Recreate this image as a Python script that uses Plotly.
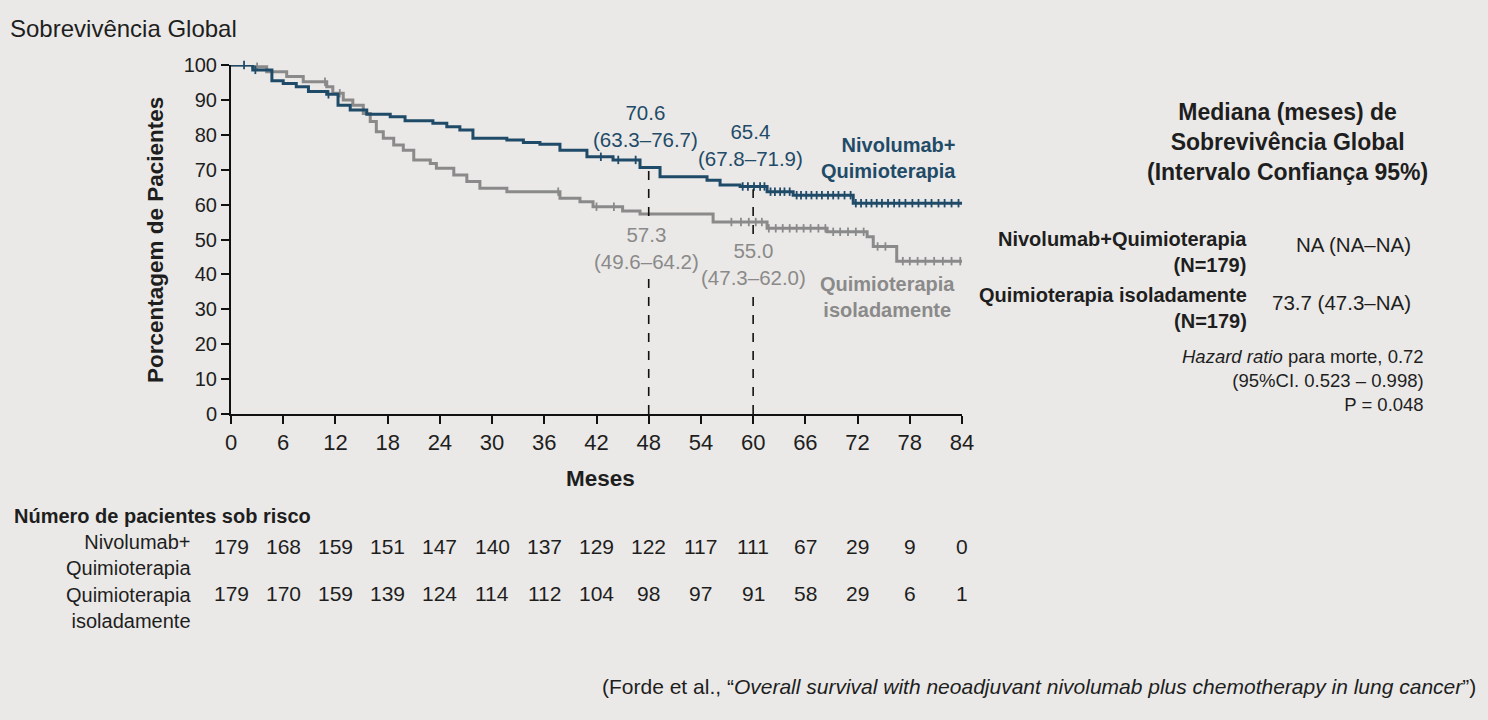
import numpy as np
import plotly.graph_objects as go

# Kaplan-Meier steps (months, % alive)
nivo_t = [0, 2.5, 4.7, 6.0, 7.5, 8.9, 11.0, 12.3, 13.7, 15.6, 18.3, 20.0, 23.2, 24.8, 26.3, 27.8,
          31.7, 33.6, 35.5, 37.8, 40.9, 43.9, 47.0, 49.3, 54.7, 56.2, 58.5, 61.6, 64.6, 71.5, 84]
nivo_s = [100, 98.6, 95.5, 94.7, 93.8, 92.4, 91.6, 88.5, 87.1, 85.9, 85.2, 84.0, 83.3, 82.3, 81.4, 79.0,
          78.5, 77.8, 77.3, 75.6, 73.7, 72.8, 70.6, 68.0, 67.0, 65.6, 65.2, 63.7, 62.7, 60.4, 60.4]

chemo_t = [0, 2.5, 4.1, 6.4, 8.3, 11.0, 11.7, 12.9, 14.0, 15.2, 16.0, 16.7, 17.5, 18.7, 19.8, 21.0,
           22.9, 23.6, 25.6, 27.1, 28.6, 31.7, 37.8, 40.1, 41.6, 45.0, 47.0, 55.4, 61.6, 68.5, 73.1,
           73.8, 76.5, 84]
chemo_s = [100, 99.5, 98.1, 96.7, 95.2, 93.8, 91.9, 90.0, 88.5, 86.1, 83.8, 80.9, 79.0, 77.1, 75.6, 72.8,
           71.8, 70.4, 68.5, 66.6, 64.7, 63.7, 61.8, 60.8, 59.4, 58.2, 57.3, 55.0, 53.2, 52.2, 50.8,
           48.0, 43.8, 43.8]

# censored observations (tick marks)
nivo_cens = [1.5, 2.8, 11.2, 42.5, 44.5, 46.5, 58.8, 59.4, 60.1, 60.8, 61.3, 62.0, 62.5, 63.1, 63.6,
             64.2, 65.0, 65.5, 66.1, 66.7, 67.3, 67.9, 68.6, 69.2, 69.8, 70.5, 71.2, 71.8, 72.4, 73.0,
             73.6, 74.2, 74.8, 75.5, 76.2, 76.8, 77.5, 78.3, 79.0, 79.8, 80.5, 81.3, 82.0, 82.8, 83.6]
chemo_cens = [3.0, 10.8, 12.5, 37.6, 42.0, 44.0, 57.5, 58.6, 59.5, 60.3, 61.0, 61.8, 62.6, 63.4, 64.2,
              65.0, 65.8, 66.6, 67.5, 68.3, 69.2, 70.0, 70.9, 71.8, 72.7, 74.3, 75.2, 77.2, 78.0, 78.9,
              79.8, 80.8, 81.8, 82.8, 83.8]

landmark_months = [48, 60]
nivo_landmark = [70.6, 65.4]
nivo_landmark_ci = ["63.3–76.7", "67.8–71.9"]
chemo_landmark = [57.3, 55.0]
chemo_landmark_ci = ["49.6–64.2", "47.3–62.0"]

risk_months = [0, 6, 12, 18, 24, 30, 36, 42, 48, 54, 60, 66, 72, 78, 84]
nivo_risk = [179, 168, 159, 151, 147, 140, 137, 129, 122, 117, 111, 67, 29, 9, 0]
chemo_risk = [179, 170, 159, 139, 124, 114, 112, 104, 98, 97, 91, 58, 29, 6, 1]

BLUE = "#1f4b68"
GRAY = "#8a8a8a"
TEXT = "#1e1e1e"
BG = "#eae9e7"
FONT = "Liberation Sans, Arial, sans-serif"

# plot area in pixels of the 1488x720 page
L, R, T, B = 231, 962, 65, 414


def px_x(p):
    return (p - L) / (R - L)


def px_y(p):
    return (B - p) / (B - T)


def step_at(ts, ss, x):
    i = np.searchsorted(ts, x, side="right") - 1
    return np.array(ss)[i]


ann = []


def txt(x, y, text, size=20, color=TEXT, xanchor="center", align="center", xref="paper", **kw):
    # y always in page pixels; x in page pixels unless xref is the data axis
    ann.append(dict(x=px_x(x) if xref == "paper" else x, y=px_y(y), xref=xref, yref="paper",
                    xanchor=xanchor, yanchor="middle", align=align, text=text, showarrow=False,
                    font=dict(size=size, color=color), **kw))


fig = go.Figure()

for ts, ss, cens, col in [(chemo_t, chemo_s, chemo_cens, GRAY), (nivo_t, nivo_s, nivo_cens, BLUE)]:
    fig.add_trace(go.Scatter(x=ts, y=ss, mode="lines", line=dict(color=col, width=3, shape="hv"),
                             cliponaxis=False, hoverinfo="skip"))
    fig.add_trace(go.Scatter(x=cens, y=step_at(ts, ss, cens), mode="markers", cliponaxis=False,
                             marker=dict(symbol="line-ns", size=6, line=dict(color=col, width=1.8)),
                             hoverinfo="skip"))

# dashed landmark lines
for m, v in zip(landmark_months, nivo_landmark):
    fig.add_shape(type="line", x0=m, x1=m, y0=0, y1=v - 1, xref="x", yref="y",
                  line=dict(color="#111", width=1.6, dash="dash"))

for m, v, ci, yy, dx in zip(landmark_months, nivo_landmark, nivo_landmark_ci, [126, 145], [-0.4, -0.3]):
    txt(m + dx, yy, f"{v}<br>({ci})", size=20.5, color=BLUE, xref="x")
for m, v, ci, yy, dx in zip(landmark_months, chemo_landmark, chemo_landmark_ci, [248, 264], [-0.3, 0]):
    txt(m + dx, yy, f"{v:.1f}<br>({ci})", size=20.5, color=GRAY, xref="x", bgcolor=BG)

# curve labels
txt(958, 158, "<b>Nivolumab+<br>Quimioterapia</b>", color=BLUE, xanchor="right", align="right")
txt(887, 297, "<b>Quimioterapia<br>isoladamente</b>", color=GRAY)

# titles
txt(8, 29, "Sobrevivência Global", size=24, xanchor="left")
txt(155, 240, "<b>Porcentagem de Pacientes</b>", size=22.5, textangle=-90)
txt(600, 478, "<b>Meses</b>", size=22.5)

# right panel
txt(1287, 142, "<b>Mediana (meses) de<br>Sobrevivência Global<br>(Intervalo Confiança 95%)</b>", size=23)
txt(1249, 252, "<b>Nivolumab+Quimioterapia<br>(N=179)</b>", xanchor="right", align="right")
txt(1249, 308, "<b>Quimioterapia isoladamente<br>(N=179)</b>", xanchor="right", align="right")
txt(1413, 244, "NA (NA–NA)", size=20.5, xanchor="right")
txt(1413, 302, "73.7 (47.3–NA)", size=20.5, xanchor="right")
txt(1426, 380, "<i>Hazard ratio</i> para morte, 0.72<br>(95%CI. 0.523 – 0.998)<br>P = 0.048",
    size=18.5, xanchor="right", align="right")

# number at risk table
txt(12, 516, "<b>Número de pacientes sob risco</b>", size=20, xanchor="left")
txt(193, 555, "Nivolumab+<br>Quimioterapia", xanchor="right", align="right")
txt(193, 608, "Quimioterapia<br>isoladamente", xanchor="right", align="right")
for m, n1, n2 in zip(risk_months, nivo_risk, chemo_risk):
    txt(m, 546, str(n1), size=21, xref="x")
    txt(m, 593, str(n2), size=21, xref="x")

txt(1478, 686, "(Forde et al., “<i>Overall survival with neoadjuvant nivolumab plus chemotherapy in lung cancer</i>”)",
    size=21, xanchor="right")

axis_common = dict(showgrid=False, zeroline=False, showline=True, linecolor="#111", linewidth=2,
                   ticks="outside", ticklen=8, tickwidth=1.5, tickcolor="#111")

fig.update_layout(
    width=1488, height=720,
    margin=dict(l=L, r=1488 - R, t=T, b=720 - B),
    paper_bgcolor=BG, plot_bgcolor=BG,
    font=dict(family=FONT, color=TEXT),
    showlegend=False,
    xaxis=dict(range=[0, 84], tickvals=risk_months, tickfont=dict(size=22, color=TEXT), **axis_common),
    yaxis=dict(range=[0, 100], dtick=10, tickfont=dict(size=20, color=TEXT), **axis_common),
    annotations=ann,
)

fig.write_html("out.html", config={"displayModeBar": False},
               post_script="document.body.style.margin='0px';")
